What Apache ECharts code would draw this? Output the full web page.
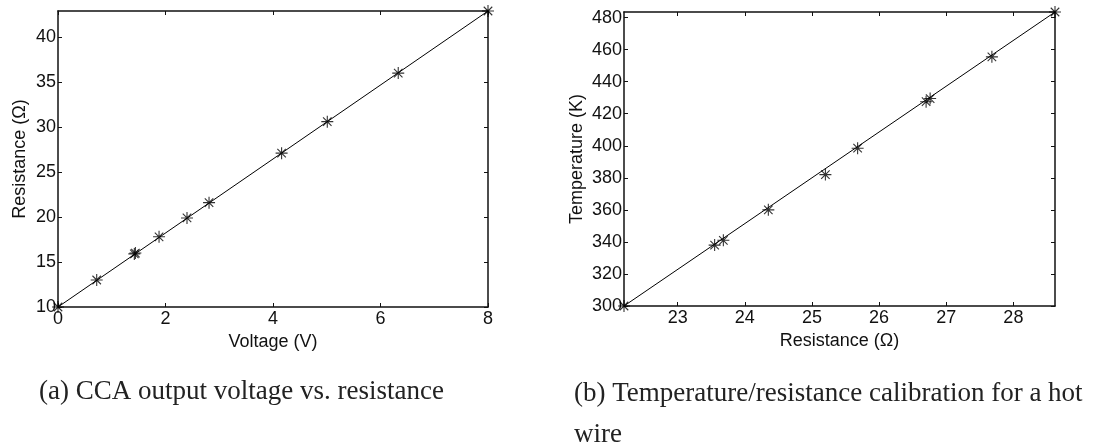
<!DOCTYPE html>
<html>
<head>
<meta charset="utf-8">
<script src="https://cdn.jsdelivr.net/npm/echarts@6/dist/echarts.min.js"></script>
<style>
html,body{margin:0;padding:0;background:#fff;}
#c{width:1115px;height:444px;}
</style>
</head>
<body>
<div id="c"></div>
<script>
// ---- Data: (a) CCA output voltage vs resistance ----
const aVoltage    = [0, 0.72, 1.42, 1.44, 1.88, 2.40, 2.81, 4.16, 5.01, 6.33, 8.0];
const aResistance = [10.0, 13.0, 15.9, 16.0, 17.8, 19.9, 21.6, 27.1, 30.6, 36.0, 42.9];
const aFitVoltage    = [0, 8];
const aFitResistance = [10, 42.9];
const aXTicks = [0, 2, 4, 6, 8];
const aYTicks = [10, 15, 20, 25, 30, 35, 40];

// ---- Data: (b) Temperature/resistance calibration ----
const bResistance  = [22.2, 23.55, 23.68, 24.35, 25.2, 25.68, 26.7, 26.76, 27.68, 28.62];
const bTemperature = [300, 338, 341, 360, 382, 398.5, 427.5, 429.5, 455.5, 483.5];
const bFitResistance  = [22.2, 28.62];
const bFitTemperature = [300, 483.5];
const bXTicks = [23, 24, 25, 26, 27, 28];
const bYTicks = [300, 320, 340, 360, 380, 400, 420, 440, 460, 480];

const captionA = '(a) CCA output voltage vs. resistance';
const captionB = '(b) Temperature/resistance calibration for a hot\nwire';

const zip = (xs, ys) => xs.map((x, i) => [x, ys[i]]);
const SANS = '"Liberation Sans", Arial, sans-serif';
const SERIF = '"Liberation Serif", "DejaVu Serif", serif';
const star = 'path://M0,-5L0,5M-5,0L5,0M-3.54,-3.54L3.54,3.54M-3.54,3.54L3.54,-3.54';

function mkAxis(kind, grid, pos, min, max, ticks, showLabel, name, nameGap) {
  const ax = {
    type: 'value', gridIndex: grid, position: pos, min: min, max: max,
    axisLine: {show: true, onZero: false, lineStyle: {color: '#111', width: 1.5}},
    axisTick: {show: true, inside: true, length: 4, customValues: ticks, lineStyle: {color: '#111', width: 1}},
    axisLabel: {show: showLabel, customValues: ticks, color: '#111', fontFamily: SANS, fontSize: 18,
                margin: kind === 'x' ? 3 : 2},
    splitLine: {show: false}
  };
  if (name) {
    ax.name = name; ax.nameLocation = 'middle'; ax.nameGap = nameGap;
    ax.nameTextStyle = {color: '#111', fontFamily: SANS, fontSize: 18};
  }
  return ax;
}

const chart = echarts.init(document.getElementById('c'), null, {renderer: 'canvas'});
chart.setOption({
  animation: false,
  backgroundColor: '#fff',
  grid: [
    {left: 58, right: 627, top: 11, bottom: 137},
    {left: 624, right: 60, top: 12, bottom: 138}
  ],
  xAxis: [
    mkAxis('x', 0, 'bottom', 0, 8, aXTicks, true, 'Voltage (V)', 21),
    mkAxis('x', 0, 'top', 0, 8, aXTicks, false),
    mkAxis('x', 1, 'bottom', 22.2, 28.62, bXTicks, true, 'Resistance (Ω)', 18),
    mkAxis('x', 1, 'top', 22.2, 28.62, bXTicks, false)
  ],
  yAxis: [
    mkAxis('y', 0, 'left', 10, 42.9, aYTicks, true, 'Resistance (Ω)', 29),
    mkAxis('y', 0, 'right', 10, 42.9, aYTicks, false),
    mkAxis('y', 1, 'left', 300, 483.5, bYTicks, true, 'Temperature (K)', 38),
    mkAxis('y', 1, 'right', 300, 483.5, bYTicks, false)
  ],
  series: [
    {type: 'line', xAxisIndex: 0, yAxisIndex: 0, data: zip(aFitVoltage, aFitResistance),
     symbol: 'none', lineStyle: {color: '#000', width: 1}, silent: true},
    {type: 'scatter', xAxisIndex: 0, yAxisIndex: 0, data: zip(aVoltage, aResistance),
     symbol: star, symbolSize: 12, itemStyle: {color: 'none', borderColor: '#000', borderWidth: 1.1}},
    {type: 'line', xAxisIndex: 2, yAxisIndex: 2, data: zip(bFitResistance, bFitTemperature),
     symbol: 'none', lineStyle: {color: '#000', width: 1}, silent: true},
    {type: 'scatter', xAxisIndex: 2, yAxisIndex: 2, data: zip(bResistance, bTemperature),
     symbol: star, symbolSize: 12, itemStyle: {color: 'none', borderColor: '#000', borderWidth: 1.1}}
  ],
  graphic: [
    {type: 'text', left: 39, top: 378, style: {text: captionA, font: '27px ' + SERIF, fill: '#222'}},
    {type: 'text', left: 574, top: 373, style: {text: captionB, font: '27px ' + SERIF, fill: '#222', lineHeight: 41}}
  ]
});
</script>
</body>
</html>
